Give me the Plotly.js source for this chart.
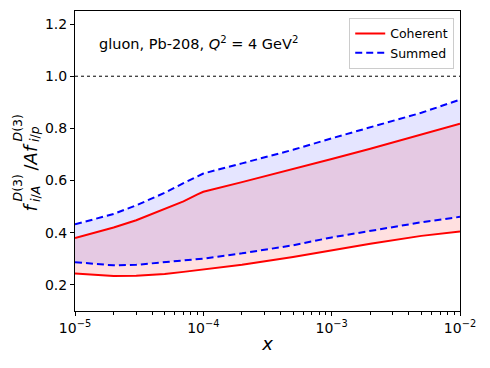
<!DOCTYPE html>
<html><head><meta charset="utf-8">
<script src="https://cdn.plot.ly/plotly-3.0.1.min.js"></script>
<style>body{margin:0;background:#fff}#plot{width:490px;height:368px}</style>
</head><body><div id="plot"></div>
<script>
const xVals   = [1e-5, 2e-5, 3e-5, 5e-5, 7e-5, 9e-5, 1e-4, 2e-4, 5e-4, 1e-3, 2e-3, 5e-3, 1e-2];
const cohUp   = [0.380, 0.420, 0.448, 0.490, 0.520, 0.547, 0.557, 0.594, 0.643, 0.683, 0.722, 0.775, 0.818];
const cohLo   = [0.244, 0.234, 0.235, 0.242, 0.250, 0.256, 0.258, 0.277, 0.307, 0.332, 0.358, 0.388, 0.405];
const sumUp   = [0.432, 0.472, 0.505, 0.553, 0.590, 0.615, 0.627, 0.666, 0.718, 0.762, 0.805, 0.860, 0.910];
const sumLo   = [0.287, 0.275, 0.277, 0.287, 0.295, 0.299, 0.301, 0.321, 0.352, 0.382, 0.408, 0.440, 0.461];
const yTicks  = [0.2, 0.4, 0.6, 0.8, 1.0, 1.2];
const yTickText = ['0.2', '0.4', '0.6', '0.8', '1.0', '1.2'];
const xTicks  = [1e-5, 1e-4, 1e-3, 1e-2];
const xTickText = ['10<sup>\u22125</sup>', '10<sup>\u22124</sup>', '10<sup>\u22123</sup>', '10<sup>\u22122</sup>'];
const decades = [1e-5, 1e-4, 1e-3];
const minorDigits = [2, 3, 4, 5, 6, 7, 8, 9];

const minorVals = [];
decades.forEach(d => minorDigits.forEach(m => minorVals.push(m * d)));

const font = 'DejaVu Sans, sans-serif';
const W = 490, H = 368, ML = 75, MR = 30, MT = 11, MB = 57;
const PW = W - ML - MR, PH = H - MT - MB;
const px = v => (v - ML) / PW;
const py = v => (H - MB - v) / PH;

const traces = [
  {x: xVals, y: cohLo, mode: 'lines', line: {width: 0}, showlegend: false, hoverinfo: 'skip'},
  {x: xVals, y: cohUp, mode: 'lines', line: {width: 0}, fill: 'tonexty', fillcolor: 'rgba(255,0,0,0.12)', showlegend: false, hoverinfo: 'skip'},
  {x: xVals, y: sumLo, mode: 'lines', line: {width: 0}, showlegend: false, hoverinfo: 'skip'},
  {x: xVals, y: sumUp, mode: 'lines', line: {width: 0}, fill: 'tonexty', fillcolor: 'rgba(0,0,255,0.1)', showlegend: false, hoverinfo: 'skip'},
  {x: xVals, y: cohUp, mode: 'lines', name: 'Coherent', line: {color: '#ff0000', width: 2}, legendgroup: 'c'},
  {x: xVals, y: cohLo, mode: 'lines', name: 'Coherent', line: {color: '#ff0000', width: 2}, legendgroup: 'c', showlegend: false},
  {x: xVals, y: sumUp, mode: 'lines', name: 'Summed', line: {color: '#0000ff', width: 2, dash: '7px,4px'}, legendgroup: 's'},
  {x: xVals, y: sumLo, mode: 'lines', name: 'Summed', line: {color: '#0000ff', width: 2, dash: '7px,4px'}, legendgroup: 's', showlegend: false}
];

// y-axis title pieces (rotated), emulating stacked super/subscripts
function rot(text, cx, by, size) {
  return {xref: 'paper', yref: 'paper', x: px(cx), y: py(by), xanchor: 'center', yanchor: 'bottom',
          textangle: -90, showarrow: false, text: text, borderpad: 0,
          font: {family: font, size: size, color: '#000'}};
}
const titlePieces = [
  rot('<i>f</i>', 30, 213, 18),
  rot('<i>D</i>(3)', 17, 203, 12.5),
  rot('<i>i</i>/<i>A</i>', 35, 203, 12.5),
  rot('/<i>Af</i>', 30, 172, 18),
  rot('<i>D</i>(3)', 17, 143, 12.5),
  rot('<i>i</i>/<i>p</i>', 35, 143, 12.5)
];

const layout = {
  width: W, height: H,
  margin: {l: ML, r: MR, t: MT, b: MB},
  paper_bgcolor: '#fff', plot_bgcolor: '#fff',
  font: {family: font, size: 14, color: '#000'},
  showlegend: true,
  legend: {x: 0.985, xanchor: 'right', y: 0.977, yanchor: 'top', bordercolor: '#cccccc', borderwidth: 1,
           bgcolor: 'rgba(255,255,255,0.8)', font: {family: font, size: 12.5}, tracegroupgap: 0, itemwidth: 30},
  xaxis: {
    type: 'log', range: [-5, -2], tickmode: 'array', tickvals: xTicks, ticktext: xTickText,
    showgrid: false, zeroline: false, showline: true, linecolor: '#000', linewidth: 1, mirror: true,
    ticks: 'outside', ticklen: 4, tickcolor: '#000', tickfont: {family: font, size: 14},
    minor: {tickmode: 'array', tickvals: minorVals, ticks: 'outside', ticklen: 2.5, tickcolor: '#000', showgrid: false},
    title: {text: '<i>x</i>', font: {family: font, size: 18}, standoff: 2}
  },
  yaxis: {
    range: [0.1, 1.25], tickvals: yTicks, ticktext: yTickText,
    showgrid: false, zeroline: false, showline: true, linecolor: '#000', linewidth: 1, mirror: true,
    ticks: 'outside', ticklen: 4, tickcolor: '#000', tickfont: {family: font, size: 14}
  },
  shapes: [{type: 'line', xref: 'paper', x0: 0, x1: 1, yref: 'y', y0: 1.0, y1: 1.0,
            line: {color: '#000', width: 1, dash: 'dot'}}],
  annotations: [{xref: 'paper', yref: 'paper', x: 0.057, y: 0.893, xanchor: 'left', yanchor: 'middle',
                 showarrow: false, text: 'gluon, Pb-208, <i>Q</i><sup>2</sup> = 4 GeV<sup>2</sup>',
                 font: {family: font, size: 14.5}}].concat(titlePieces)
};

Plotly.newPlot('plot', traces, layout, {staticPlot: true, displayModeBar: false});
</script></body></html>
